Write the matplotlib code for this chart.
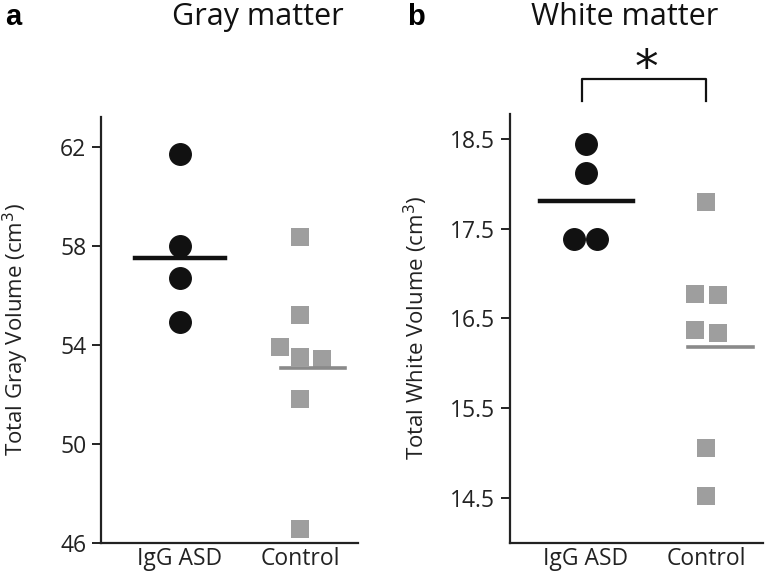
import matplotlib
matplotlib.use("Agg")
import matplotlib.pyplot as plt

plt.rcParams["font.family"] = ["Open Sans", "DejaVu Sans"]

groups = ["IgG ASD", "Control"]

# gray matter volumes (cm3)
gray_asd = [61.7, 58.0, 56.7, 54.9]
gray_asd_x = [0.0, 0.0, 0.0, 0.0]
gray_ctrl = [58.35, 55.2, 53.9, 53.5, 53.4, 51.8, 46.55]
gray_ctrl_x = [0.0, 0.0, -0.17, 0.0, 0.18, 0.0, 0.0]
gray_means = [57.5, 53.05]

# white matter volumes (cm3)
white_asd = [18.45, 18.12, 17.39, 17.39]
white_asd_x = [0.0, 0.0, -0.1, 0.09]
white_ctrl = [17.8, 16.77, 16.76, 16.37, 16.34, 15.05, 14.52]
white_ctrl_x = [0.0, -0.09, 0.1, -0.09, 0.1, 0.0, 0.0]
white_means = [17.81, 16.18]

gray_ticks = [46, 50, 54, 58, 62]
white_ticks = [14.5, 15.5, 16.5, 17.5, 18.5]

DARK = "#111111"
LIGHT = "#9e9e9e"
MEANGRAY = "#8a8a8a"

fig = plt.figure(figsize=(7.66, 5.78), dpi=100)
ax1 = fig.add_axes([0.1319, 0.0614, 0.3355, 0.7362])
ax2 = fig.add_axes([0.6658, 0.0614, 0.3303, 0.7414])


def style(ax, ylim, ticks, ylabel, label_x):
    ax.set_ylim(*ylim)
    ax.set_yticks(ticks)
    ax.set_yticklabels([f"{t:g}" for t in ticks])
    for s in ["top", "right"]:
        ax.spines[s].set_visible(False)
    for s in ["left", "bottom"]:
        ax.spines[s].set_linewidth(1.6)
        ax.spines[s].set_color("#222222")
    ax.tick_params(axis="y", direction="out", length=6.5, width=1.4,
                   labelsize=16.5, colors="#222222", pad=4)
    ax.tick_params(axis="x", length=0, labelsize=16.5, colors="#222222", pad=3)
    ax.set_xticks([0, 1])
    ax.set_xticklabels(groups)
    ax.set_ylabel(ylabel, fontsize=16, color="#222222")
    ax.yaxis.set_label_coords(label_x, 0.5)


# panel a
ax1.plot(gray_asd_x, gray_asd, "o", color=DARK, markersize=15.5, zorder=3)
ax1.plot([1 + x for x in gray_ctrl_x], gray_ctrl, "s", color=LIGHT,
         markersize=12.5, markeredgewidth=0, zorder=3)
ax1.plot([-0.375, 0.375], [gray_means[0]] * 2, color=DARK, lw=3.2, zorder=4)
ax1.plot([1 - 0.16, 1.375], [gray_means[1]] * 2, color=MEANGRAY, lw=2.6, zorder=4)
ax1.set_xlim(-0.658, 1.483)
style(ax1, (46, 63.2), gray_ticks, "Total Gray Volume (cm$^3$)", -0.272)

# panel b
ax2.plot(white_asd_x, white_asd, "o", color=DARK, markersize=15.5, zorder=3)
ax2.plot([1 + x for x in white_ctrl_x], white_ctrl, "s", color=LIGHT,
         markersize=12.5, markeredgewidth=0, zorder=3)
ax2.plot([-0.383, 0.392], [white_means[0]] * 2, color=DARK, lw=3.2, zorder=4)
ax2.plot([1 - 0.15, 1.39], [white_means[1]] * 2, color=MEANGRAY, lw=2.6, zorder=4)
ax2.set_xlim(-0.633, 1.475)
style(ax2, (14.0, 18.78), white_ticks, "Total White Volume (cm$^3$)", -0.315)

# significance bracket
ax2.plot([-0.033, -0.033, 1.0, 1.0], [18.92, 19.17, 19.17, 18.92],
         color=DARK, lw=1.6, clip_on=False)
ax2.text(0.5, 19.28, "*", ha="center", va="center", fontsize=34,
         family="DejaVu Sans", color=DARK, clip_on=False)

# titles and panel letters
fig.text(258 / 766, 1 - 17 / 578, "Gray matter", ha="center", va="center",
         fontsize=22, color="#111111")
fig.text(625 / 766, 1 - 17 / 578, "White matter", ha="center", va="center",
         fontsize=22, color="#111111")
fig.text(5 / 766, 1 - 17 / 578, "a", ha="left", va="center", fontsize=21,
         fontweight="bold", family=["Liberation Sans", "DejaVu Sans"])
fig.text(407 / 766, 1 - 17 / 578, "b", ha="left", va="center", fontsize=21,
         fontweight="bold", family=["Liberation Sans", "DejaVu Sans"])

fig.savefig("out.png", dpi=100)
